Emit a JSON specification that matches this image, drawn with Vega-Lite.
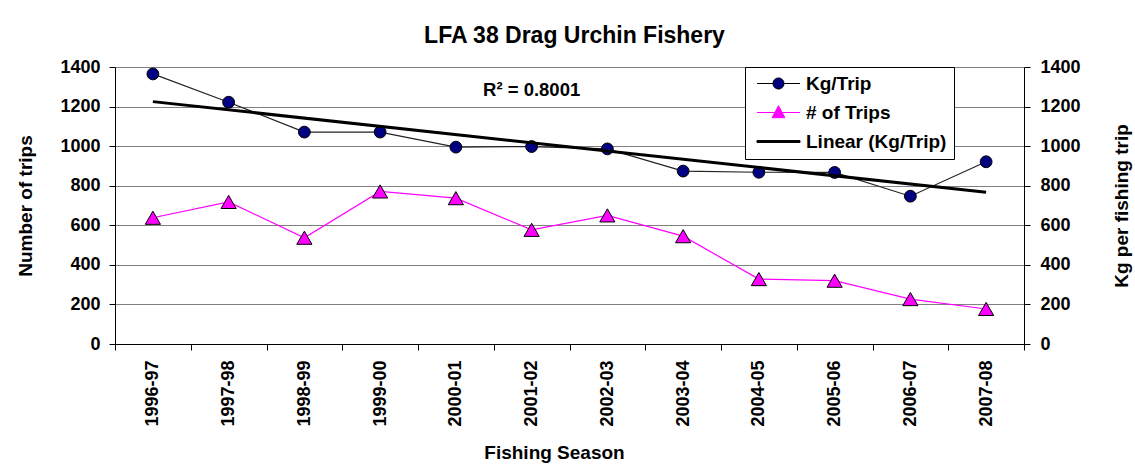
{
  "$schema": "https://vega.github.io/schema/vega-lite/v6.json",
  "width": 909,
  "height": 277,
  "autosize": {"type": "none"},
  "padding": {"left": 115, "top": 67, "right": 111, "bottom": 125},
  "background": "white",
  "config": {
    "font": "Liberation Sans",
    "view": {"stroke": null},
    "axis": {
      "labelFont": "Liberation Sans", "labelFontSize": 18, "labelFontWeight": "bold", "labelColor": "#000",
      "titleFont": "Liberation Sans", "titleFontSize": 19, "titleFontWeight": "bold", "titleColor": "#000",
      "domainColor": "#000", "tickColor": "#000", "tickSize": 6, "domainWidth": 1, "tickWidth": 1
    },
    "legend": {
      "labelFont": "Liberation Sans", "labelFontSize": 19, "labelFontWeight": "bold", "labelColor": "#000",
      "labelLimit": 400, "fillColor": "white", "strokeColor": "#000", "padding": 7, "cornerRadius": 0,
      "rowPadding": 9, "symbolOffset": 17, "labelOffset": 18, "symbolSize": 256, "symbolStrokeWidth": 1,
      "symbolOpacity": 1
    }
  },
  "title": {
    "text": "LFA 38 Drag Urchin Fishery",
    "font": "Liberation Sans", "fontSize": 23, "fontWeight": "bold", "color": "#000",
    "anchor": "middle", "dx": 5, "offset": 10
  },
  "data": {
    "values": [
      {"season": "1996-97", "kg": 1365, "trips": 638},
      {"season": "1997-98", "kg": 1222, "trips": 718},
      {"season": "1998-99", "kg": 1071, "trips": 537},
      {"season": "1999-00", "kg": 1071, "trips": 771},
      {"season": "2000-01", "kg": 995, "trips": 737},
      {"season": "2001-02", "kg": 998, "trips": 577},
      {"season": "2002-03", "kg": 986, "trips": 650},
      {"season": "2003-04", "kg": 874, "trips": 545},
      {"season": "2004-05", "kg": 868, "trips": 328},
      {"season": "2005-06", "kg": 867, "trips": 320},
      {"season": "2006-07", "kg": 747, "trips": 227},
      {"season": "2007-08", "kg": 921, "trips": 177}
    ]
  },
  "encoding": {
    "x": {
      "field": "season", "type": "ordinal",
      "scale": {"type": "band", "paddingInner": 0, "paddingOuter": 0,
        "domain": ["1996-97","1997-98","1998-99","1999-00","2000-01","2001-02","2002-03","2003-04","2004-05","2005-06","2006-07","2007-08"]},
      "axis": {
        "title": "Fishing Season", "tickBand": "extent", "labelAngle": 270, "labelAlign": "right",
        "labelBaseline": "middle", "labelPadding": 10, "titlePadding": 17, "titleX": 439, "grid": false
      }
    }
  },
  "layer": [
    {
      "encoding": {
        "y": {
          "field": "trips", "type": "quantitative",
          "scale": {"domain": [0, 1400], "nice": false},
          "axis": {
            "orient": "left", "title": "Number of trips", "values": [0,200,400,600,800,1000,1200,1400], "format": "d",
            "grid": true, "gridColor": "#808080", "gridWidth": 1, "labelPadding": 9, "titlePadding": 24
          }
        }
      },
      "layer": [
        {"mark": {"type": "line", "color": "#FF00FF", "strokeWidth": 1.2}},
        {"mark": {"type": "point", "shape": "triangle-up", "filled": true, "fill": "#FF00FF", "stroke": "#000", "strokeWidth": 1, "size": 230, "opacity": 1}}
      ]
    },
    {
      "layer": [
        {
          "mark": {"type": "line", "color": "#222", "strokeWidth": 1.2},
          "encoding": {"y": {"field": "kg", "type": "quantitative"}}
        },
        {
          "mark": {"type": "point", "shape": "circle", "filled": true, "fill": "#000080", "stroke": "#000", "strokeWidth": 1, "size": 140, "opacity": 1},
          "encoding": {"y": {"field": "kg", "type": "quantitative"}}
        },
        {
          "data": {"values": [
            {"season": "1996-97", "kg": 1225},
            {"season": "2007-08", "kg": 767}
          ]},
          "mark": {"type": "line", "color": "#000", "strokeWidth": 3},
          "encoding": {"y": {"field": "kg", "type": "quantitative"}}
        },
        {
          "data": {"values": [{"season": "2001-02", "kg": 1285, "label": "R² = 0.8001"}]},
          "mark": {"type": "text", "font": "Liberation Sans", "fontSize": 18.5, "fontWeight": "bold", "color": "#000", "align": "center", "baseline": "middle"},
          "encoding": {"y": {"field": "kg", "type": "quantitative"}, "text": {"field": "label"}}
        },
        {
          "data": {"values": [
            {"series": "Kg/Trip"},
            {"series": "# of Trips"},
            {"series": "Linear (Kg/Trip)"}
          ]},
          "mark": {"type": "point", "filled": true, "opacity": 0},
          "encoding": {
            "x": null,
            "shape": {
              "field": "series", "type": "nominal",
              "scale": {
                "domain": ["Kg/Trip", "# of Trips", "Linear (Kg/Trip)"],
                "range": [
                  "M-2.69,0H-0.69M0.69,0H2.69M-0.69,0A0.69,0.69,0,1,0,0.69,0A0.69,0.69,0,1,0,-0.69,0Z",
                  "M-2.69,0H-0.45M0.45,0H2.69M0,-0.85L0.8,0.65L-0.8,0.65Z",
                  "M-2.69,-0.12H2.69V0.12H-2.69Z"
                ]
              },
              "legend": {"title": null, "orient": "none", "legendX": 630, "legendY": 0}
            },
            "fill": {
              "field": "series", "type": "nominal",
              "scale": {"domain": ["Kg/Trip", "# of Trips", "Linear (Kg/Trip)"], "range": ["#000080", "#FF00FF", "#000000"]},
              "legend": {"title": null, "orient": "none", "legendX": 630, "legendY": 0}
            },
            "stroke": {
              "field": "series", "type": "nominal",
              "scale": {"domain": ["Kg/Trip", "# of Trips", "Linear (Kg/Trip)"], "range": ["#000000", "#FF00FF", "#000000"]},
              "legend": {"title": null, "orient": "none", "legendX": 630, "legendY": 0}
            }
          }
        }
      ],
      "encoding": {
        "y": {
          "field": "kg", "type": "quantitative",
          "scale": {"domain": [0, 1400], "nice": false},
          "axis": {
            "orient": "right", "title": "Kg per fishing trip", "values": [0,200,400,600,800,1000,1200,1400], "format": "d",
            "grid": false, "labelPadding": 10, "titlePadding": 51, "titleAngle": 270
          }
        }
      }
    }
  ],
  "resolve": {"scale": {"y": "independent"}}
}
